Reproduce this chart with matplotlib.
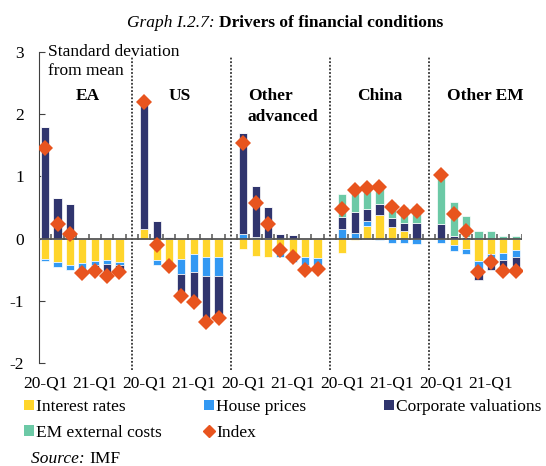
import matplotlib.pyplot as plt
import numpy as np
from matplotlib.patches import Patch
from matplotlib.lines import Line2D

plt.rcParams['font.family'] = ['Liberation Serif', 'DejaVu Serif']
FS = 12.5

# values per group: EA, US, Other advanced, China, Other EM (20-Q1 .. 21-Q3)
groups = ['EA', 'US', 'Other advanced', 'China', 'Other EM']
interest = [-0.325, -0.37, -0.43, -0.40, -0.36, -0.35, -0.37,
            0.155, -0.34, -0.37, -0.33, -0.245, -0.29, -0.30,
            -0.165, -0.28, -0.30, -0.235, -0.31, -0.30, -0.31,
            -0.235, -0.03, 0.21, 0.385, 0.19, 0.12, 0.0,
            0.0, -0.10, -0.17, -0.36, -0.245, -0.235, -0.18]
house = [-0.035, -0.08, -0.07, -0.10, -0.06, -0.06, -0.05,
         0.0, -0.08, -0.03, -0.235, -0.30, -0.31, -0.30,
         0.075, 0.03, 0.01, -0.065, -0.07, -0.13, -0.12,
         0.15, 0.085, 0.07, -0.03, -0.075, -0.075, -0.085,
         -0.065, -0.10, -0.08, -0.13, -0.10, -0.105, -0.11]
corporate = [1.79, 0.66, 0.55, -0.07, -0.08, -0.15, -0.08,
             2.035, 0.29, 0.03, -0.365, -0.455, -0.73, -0.67,
             1.615, 0.81, 0.50, 0.08, 0.055, -0.06, -0.04,
             0.20, 0.345, 0.195, 0.165, 0.135, 0.125, 0.255,
             0.235, 0.04, 0.02, -0.18, -0.155, -0.16, -0.21]
em_external = [0, 0, 0, 0, 0, 0, 0,
               0, 0, 0, 0, 0, 0, 0,
               0, 0, 0, 0, 0, 0, 0,
               0.36, 0.32, 0.34, 0.28, 0.26, 0.255, 0.275,
               0.795, 0.55, 0.35, 0.13, 0.12, 0.04, 0.045]
index = [1.45, 0.24, 0.08, -0.56, -0.52, -0.60, -0.54,
         2.20, -0.11, -0.44, -0.93, -1.02, -1.34, -1.27,
         1.54, 0.58, 0.23, -0.19, -0.30, -0.51, -0.49,
         0.48, 0.78, 0.82, 0.83, 0.51, 0.43, 0.45,
         1.02, 0.40, 0.13, -0.54, -0.38, -0.52, -0.52]
quarter_labels = ['20-Q1', '21-Q1']

series = [('Interest rates', interest, '#FFD52B'),
          ('House prices', house, '#3399F3'),
          ('Corporate valuations', corporate, '#30356E'),
          ('EM external costs', em_external, '#6CC9A6')]
index_color = '#E8541E'

n_per = 7
slots = np.array([g * (n_per + 1) + i for g in range(len(groups)) for i in range(n_per)])

fig = plt.figure(figsize=(5.46, 4.66), dpi=100)
ax = fig.add_axes([39 / 546, 103 / 466, 482.8 / 546, 311 / 466])

pos_bottom = np.zeros(len(slots))
neg_bottom = np.zeros(len(slots))
for name, vals, col in series:
    v = np.array(vals)
    bottom = np.where(v >= 0, pos_bottom, neg_bottom)
    ax.bar(slots, v, width=0.66, bottom=bottom, color=col, edgecolor='white',
           linewidth=0.5, zorder=2)
    pos_bottom += np.where(v >= 0, v, 0)
    neg_bottom += np.where(v < 0, v, 0)

ax.plot(slots, index, 'D', color=index_color, markersize=8, markeredgewidth=0,
        zorder=4)

# zero line with small ticks between bars
ax.axhline(0, color='#555555', lw=1.3, zorder=3)
last = len(groups) * (n_per + 1) - 1
ax.vlines(np.arange(0.5, last, 1.0), -0.03, 0.07, color='#555555', lw=1.1,
          zorder=3)

# dotted separators
for g in range(1, len(groups)):
    ax.vlines(g * (n_per + 1) - 1, -2.12, 2.92, colors='#333333',
              linestyles=(0, (1, 1)), lw=1.3, clip_on=False, zorder=1)

ax.set_xlim(-0.5, last - 0.5)
ax.set_ylim(-2, 3)
ax.set_yticks([-2, -1, 0, 1, 2, 3])
ax.set_yticklabels(['-2', '-1', '0', '1', '2', '3'])
ax.tick_params(axis='y', direction='in', length=4, pad=11, labelsize=FS,
               color='#404040')
xt = [g * (n_per + 1) + i for g in range(len(groups)) for i in (0, 4)]
ax.set_xticks(xt)
ax.set_xticklabels(quarter_labels * len(groups))
ax.tick_params(axis='x', length=0, pad=9, labelsize=FS)
for s in ['top', 'right', 'bottom']:
    ax.spines[s].set_visible(False)
ax.spines['left'].set_color('#404040')

ax.text(0.24, 3.0, 'Standard deviation', fontsize=FS, va='center', ha='left')
ax.text(0.24, 2.69, 'from mean', fontsize=FS, va='center', ha='left')
ax.text(3.43, 2.29, 'EA', fontsize=FS, weight='bold', ha='center', va='center')
ax.text(10.9, 2.29, 'US', fontsize=FS, weight='bold', ha='center', va='center')
ax.text(16.36, 2.29, 'Other', fontsize=FS, weight='bold', ha='left', va='center')
ax.text(16.36, 1.96, 'advanced', fontsize=FS, weight='bold', ha='left', va='center')
ax.text(27.0, 2.29, 'China', fontsize=FS, weight='bold', ha='center', va='center')
ax.text(35.54, 2.29, 'Other EM', fontsize=FS, weight='bold', ha='center', va='center')

# legend, three columns
handles = [Patch(facecolor=c, label=n) for n, _, c in series]
handles.append(Line2D([], [], marker='D', ls='none', color=index_color,
                      markersize=6.5, label='Index'))
cols = [([handles[0], handles[3]], 24), ([handles[1], handles[4]], 204),
        ([handles[2]], 384)]
for hs, xpx in cols:
    fig.legend(handles=hs, loc='upper left', bbox_to_anchor=(xpx / 546, 1 - 399 / 466),
               frameon=False, fontsize=FS, borderpad=0, borderaxespad=0,
               handlelength=0.55, handleheight=0.55, handletextpad=0.15,
               labelspacing=0.55)

# mixed-style text pieces
renderer = fig.canvas.get_renderer()


def pieces(parts, xpx, ypx):
    x = xpx
    for txt, kw in parts:
        t = fig.text(x / 546, 1 - ypx / 466, txt, fontsize=FS, va='center',
                     ha='left', **kw)
        x = t.get_window_extent(renderer).x1


pieces([('Graph I.2.7: ', {'style': 'italic'}),
        ('Drivers of financial conditions', {'weight': 'bold'})], 127, 23)
pieces([('Source: ', {'style': 'italic'}), ('IMF', {})], 31, 459)

plt.savefig('out.png', dpi=100)
